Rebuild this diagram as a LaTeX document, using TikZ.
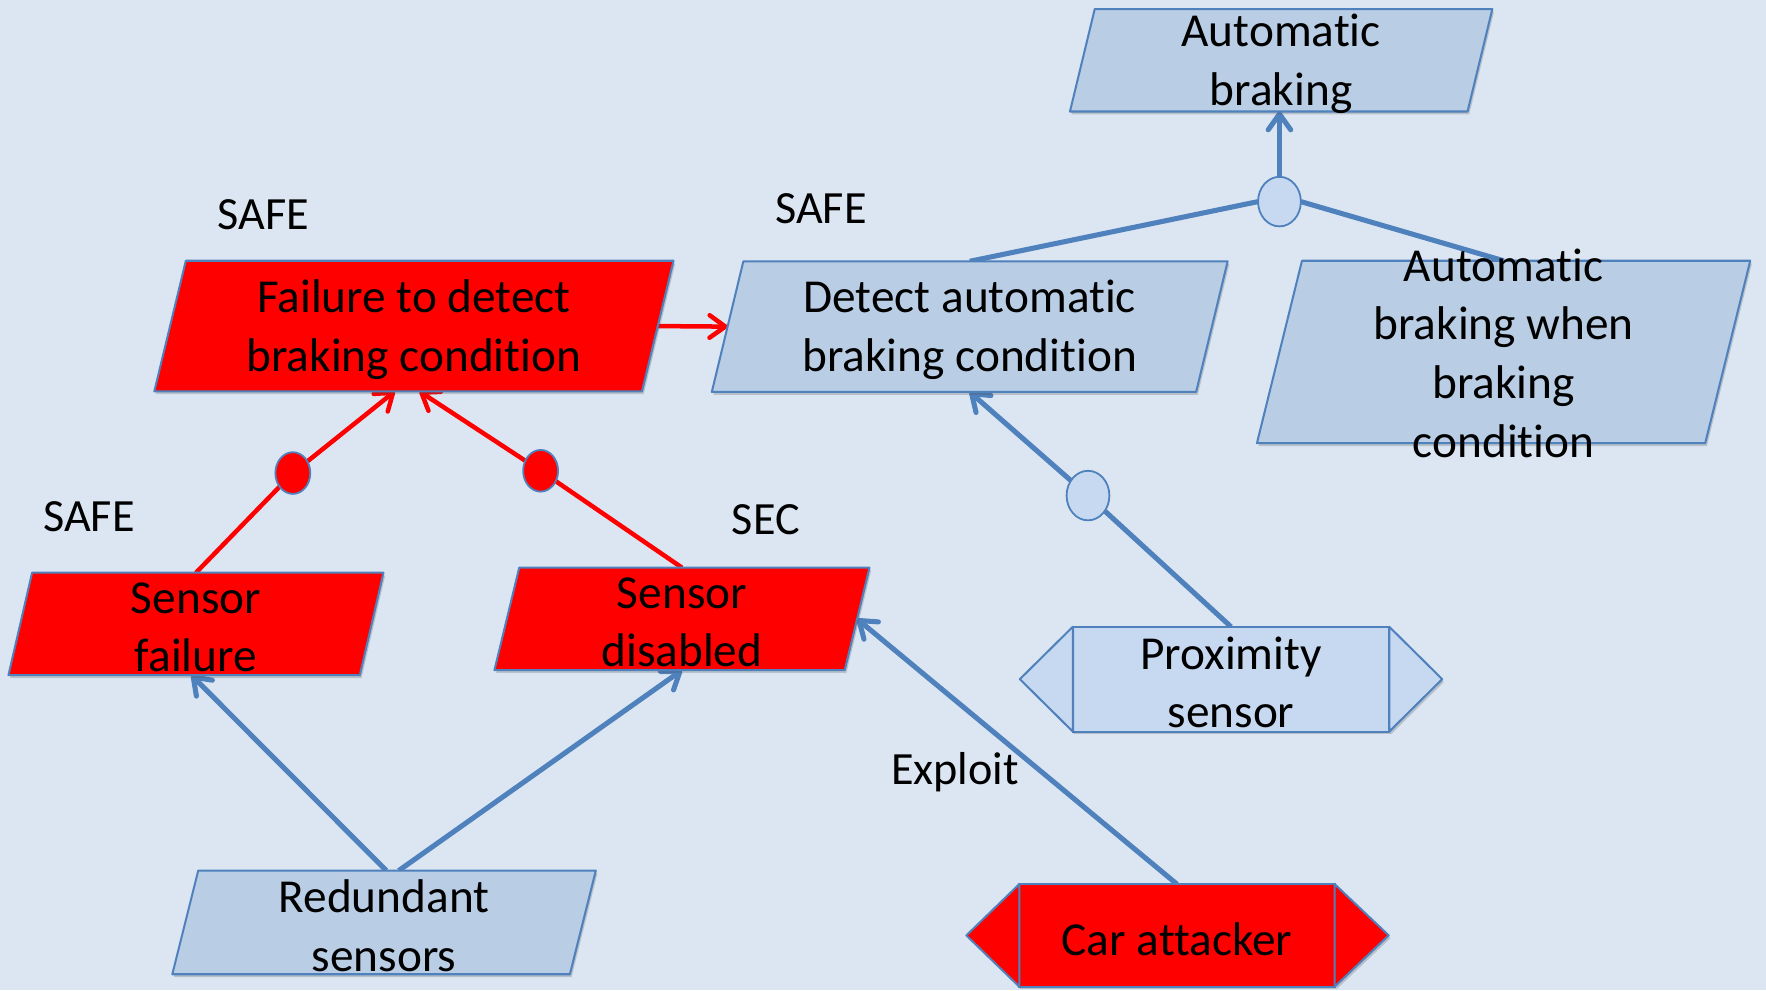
\documentclass[tikz,border=0pt]{standalone}
\usepackage{fontspec}
\setmainfont{Carlito}[Ligatures={NoCommon,NoContextual,NoRare,NoRequired}]
\usetikzlibrary{shapes.geometric,arrows.meta,shadows}

\definecolor{bgblue}{RGB}{220,230,242}
\definecolor{boxblue}{RGB}{185,205,229}
\definecolor{lightblue}{RGB}{198,217,241}
\definecolor{lineblue}{RGB}{79,129,189}
\definecolor{alarm}{RGB}{255,0,0}

\pgfdeclarelayer{bglayer}
\pgfdeclarelayer{lines}
\pgfsetlayers{bglayer,lines,main}

\tikzset{
  boxshadow/.style={drop shadow={shadow xshift=1.5pt,shadow yshift=-2.5pt,opacity=.25,fill=black!70}},
  frame/.style={rectangle, inner sep=0pt, outer sep=0pt},
  boxline/.style={draw=lineblue, line width=1.8pt, line join=round, boxshadow},
  endbox/.style={rectangle, draw=lineblue, line width=1.8pt, inner sep=0pt,
    outer sep=0pt, minimum height=93pt, boxshadow},
  txt/.style={font=\fontsize{42}{52}\selectfont, align=center, inner sep=0pt, yshift=-3pt},
  tag/.style={font=\fontsize{41}{50}\selectfont, inner sep=0pt},
  gate/.style={ellipse, draw=lineblue, line width=1.6pt, inner sep=0pt,
    outer sep=0pt, fill=lightblue, minimum width=38pt, minimum height=44pt},
  redgate/.style={gate, fill=alarm, minimum width=31pt, minimum height=37pt},
  conn/.style={draw=lineblue, line width=4.5pt},
  redconn/.style={draw=alarm, line width=4pt},
  arrowed/.style={-{Straight Barb[length=14pt,width=20pt,round]}},
}

% slanted box: name, centre, mid width, height, half skew, fill colour
\newcommand\slantbox[6]{%
  \node[frame, minimum width=#3, minimum height=#4] (#1) at #2 {};
  \draw[boxline, fill=#6]
    ([xshift=#5]#1.north west) -- ([xshift=#5]#1.north east) --
    ([xshift=-#5]#1.south east) -- ([xshift=-#5]#1.south west) -- cycle;
}

\begin{document}
\begin{tikzpicture}[x=1pt,y=-1pt]
\begin{pgfonlayer}{bglayer}
  \fill[bgblue] (0,0) rectangle (1568,879);
\end{pgfonlayer}
\useasboundingbox (0,0) rectangle (1568,879);

% goal boxes
\slantbox{ab}{(1137.5,53.5)}{353pt}{91pt}{11pt}{boxblue}
\node[txt] (ab-t) at (ab.center) {Automatic\\braking};

\slantbox{det}{(861,290)}{430pt}{116pt}{14pt}{boxblue}
\node[txt] (det-t) at (det.center) {Detect automatic\\braking condition};

\slantbox{abc}{(1335,312.5)}{398pt}{162pt}{20pt}{boxblue}
\node[txt, yshift=2pt] (abc-t) at (abc.center) {Automatic\\braking when\\braking\\condition};

% failure boxes
\slantbox{fail}{(367.5,289.5)}{433pt}{116pt}{14pt}{alarm}
\node[txt] (fail-t) at (fail.center) {Failure to detect\\braking condition};

\slantbox{sf}{(174,554)}{312pt}{91pt}{10.5pt}{alarm}
\node[txt] (sf-t) at (sf.center) {Sensor\\failure};

\slantbox{sd}{(605.5,549.5)}{311pt}{91pt}{11pt}{alarm}
\node[txt] (sd-t) at (sd.center) {Sensor\\disabled};

\slantbox{rs}{(341,819)}{353pt}{92pt}{11.5pt}{boxblue}
\node[txt] (rs-t) at (rs.center) {Redundant\\sensors};

% agent boxes with pointed ends
\node[endbox, fill=lightblue, minimum width=281pt] (ps) at (1093,603) {};
\draw[boxline, fill=lightblue] (ps.north west) -- ([xshift=-47pt]ps.west) -- (ps.south west) -- cycle;
\draw[boxline, fill=lightblue] (ps.north east) -- ([xshift=47pt]ps.east) -- (ps.south east) -- cycle;
\node[txt] (ps-t) at (ps.center) {Proximity\\sensor};

\node[endbox, fill=alarm, minimum width=280pt, minimum height=91pt] (ca) at (1045,830.5) {};
\draw[boxline, fill=alarm] (ca.north west) -- ([xshift=-47pt]ca.west) -- (ca.south west) -- cycle;
\draw[boxline, fill=alarm] (ca.north east) -- ([xshift=48pt]ca.east) -- (ca.south east) -- cycle;
\node[txt] (ca-t) at (ca.center) {Car attacker};

% refinement gates
\node[gate] (g1) at (1136,179) {};
\node[gate] (g2) at (966,440) {};
\node[redgate] (g3) at (260,420) {};
\node[redgate] (g4) at (480,418) {};

% labels
\node[tag] (l1) at (234,191) {SAFE};
\node[tag] (l2) at (729,185) {SAFE};
\node[tag] (l3) at (79,459) {SAFE};
\node[tag] (l4) at (680,461) {SEC};
\node[tag] (l5) at (848,686) {Exploit};

% connectors
\begin{pgfonlayer}{lines}
  \draw[conn, arrowed] (g1.north) -- (g1.north |- ab.south);
  \draw[conn] (det.north) -- (g1.west);
  \draw[conn] (g1.east) -- (abc.north);
  \draw[conn, arrowed] (g2) -- (det.south);
  \draw[conn] (ps.north) -- (g2);
  \draw[redconn, arrowed] (fail.east) -- (det.west);
  \draw[redconn, arrowed] (g3) -- ([xshift=-17pt]fail.south);
  \draw[redconn, arrowed] (g4) -- ([xshift=5pt]fail.south);
  \draw[redconn] (sf.north) -- (g3);
  \draw[redconn] (sd.north) -- (g4);
  \draw[conn, arrowed] ([xshift=2pt]rs.north) -- ([xshift=-4pt]sf.south);
  \draw[conn, arrowed] ([xshift=13pt]rs.north) -- (sd.south);
  \draw[conn, arrowed] (ca.north) -- (sd.east);
\end{pgfonlayer}
\end{tikzpicture}
\end{document}
